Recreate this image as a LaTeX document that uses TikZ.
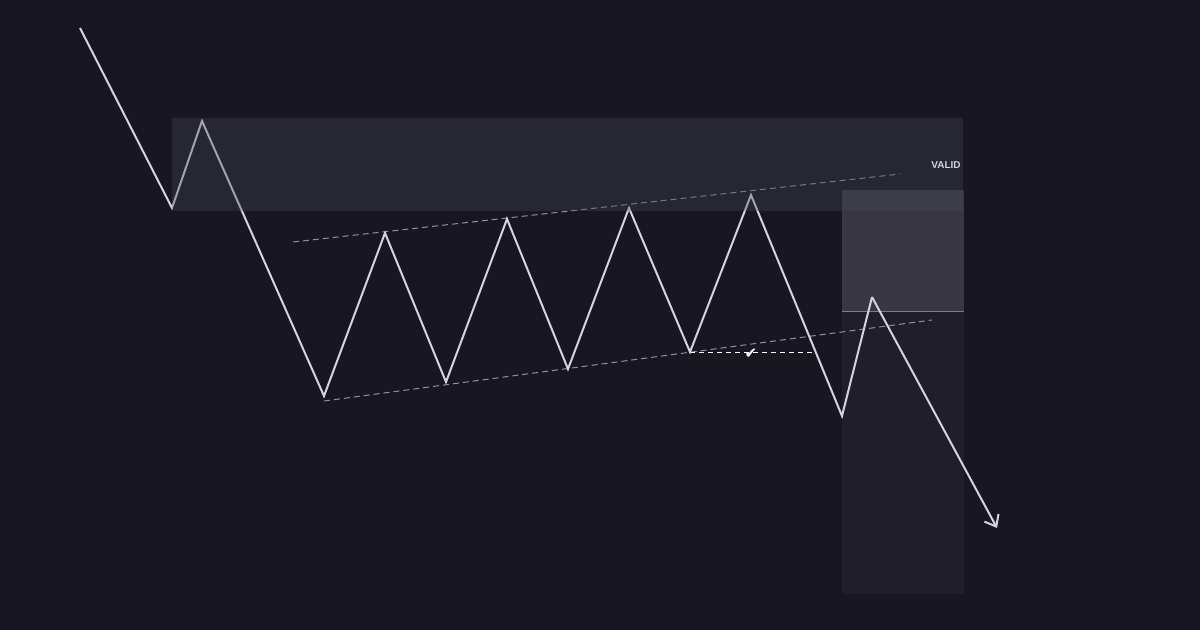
\documentclass[tikz,border=0pt]{standalone}
\usepackage{fontspec}
\usetikzlibrary{arrows.meta}
\newfontfamily\labelfont{Liberation Sans}
\newfontfamily\checkfont{DejaVu Sans}
\definecolor{bgdark}{RGB}{23,22,33}
\definecolor{zonefill}{RGB}{66,71,84}
\definecolor{pricewhite}{RGB}{212,212,222}
\definecolor{trendgray}{RGB}{145,145,158}
\definecolor{splitgray}{RGB}{125,125,135}

\begin{document}
\begin{tikzpicture}[x=0.5pt, y=-0.5pt,
  price/.style={pricewhite, line width=1pt, line join=miter},
  trend/.style={trendgray, line width=0.5pt, dash pattern=on 3pt off 2pt},
  retest/.style={white, line width=0.5pt, dash pattern=on 2.5pt off 2pt}]
  \useasboundingbox[fill=bgdark] (0,0) rectangle (1200,630);

  % Target boxes
  \fill[white, opacity=0.15] (842,190) rectangle (964,312);
  \fill[white, opacity=0.04] (842,312) rectangle (964,594);
  \draw[splitgray, line width=0.5pt] (842,312) -- (964,312);

  % Nodes
  \coordinate (s0) at (80,28);
  \coordinate (s1) at (172,208);
  \coordinate (s2) at (202,121);
  \coordinate (l1) at (324,396);
  \coordinate (h1) at (385,233);
  \coordinate (l2) at (446,382);
  \coordinate (h2) at (507,219);
  \coordinate (l3) at (568,369);
  \coordinate (h3) at (629,208);
  \coordinate (l4) at (690,352);
  \coordinate (h4) at (751,195);
  \coordinate (b1) at (842,416);
  \coordinate (b2) at (872,297);
  \coordinate (end) at (997,528);

  % Trend lines
  \coordinate (ua) at (293,242);
  \coordinate (ub) at (900,174);
  \coordinate (la) at (324,401);
  \coordinate (lb) at (932,320);
  \draw[trend] (ua) -- (ub);
  \draw[trend] (la) -- (lb);

  % Retest
  \coordinate (rt) at (812,353);
  \draw[retest] (690,353) -- (rt);
  \node[white, inner sep=0pt, font=\checkfont\fontsize{7.5}{8}\selectfont] (check) at (751,354) {✔};

  % Price path
  \draw[price] (s0) -- (s1) -- (s2) -- (l1) -- (h1) -- (l2) -- (h2) -- (l3)
    -- (h3) -- (l4) -- (h4) -- (b1) -- (b2);
  \draw[price, -{Straight Barb[length=5pt, width=8pt]}] (b2) -- (end);

  % Zone
  \fill[zonefill, opacity=0.35] (172,118) rectangle (963,211);
  \node[anchor=east, inner sep=0pt, text=pricewhite, font=\labelfont\bfseries\fontsize{5}{6}\selectfont] (valid) at (961,165) {VALID};
\end{tikzpicture}
\end{document}
